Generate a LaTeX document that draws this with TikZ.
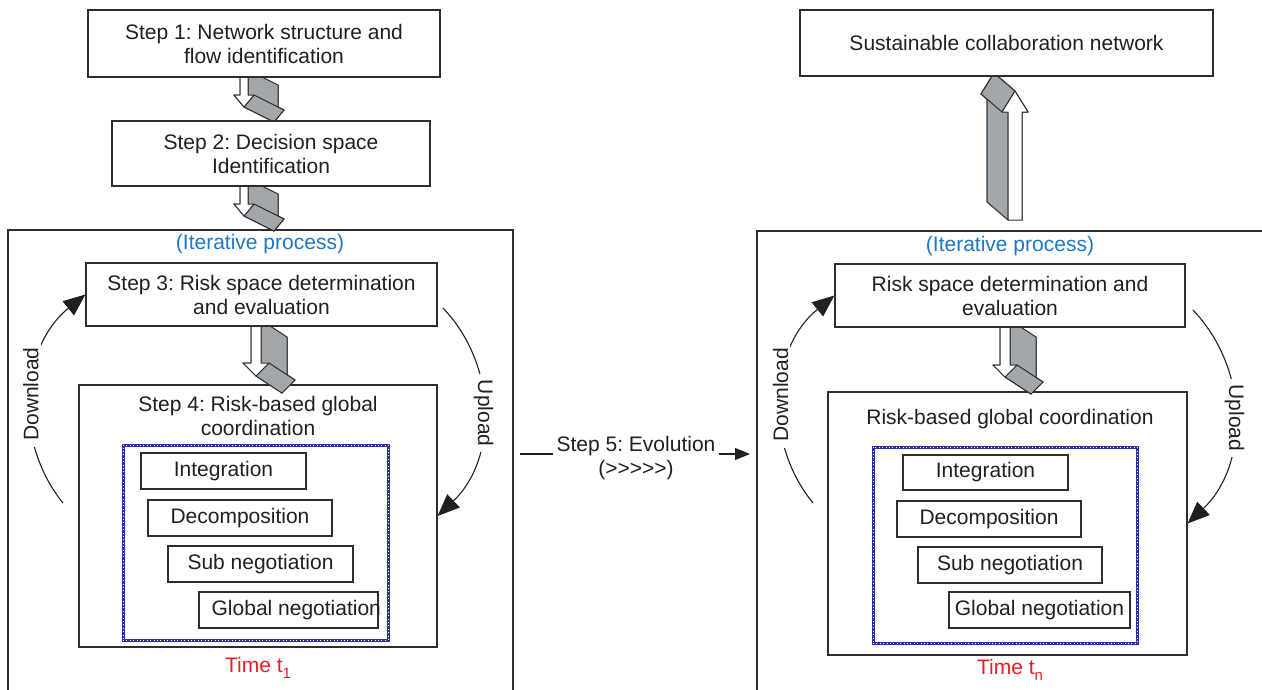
\documentclass[tikz,border=0pt]{standalone}
\usepackage{fontspec}
\setmainfont{Liberation Sans}[Ligatures=TeXOff]
\usetikzlibrary{arrows.meta}
\frenchspacing

\definecolor{lineColor}{RGB}{45,45,45}
\definecolor{textColor}{RGB}{35,31,32}
\definecolor{sideColor}{RGB}{162,167,172}
\definecolor{iterColor}{RGB}{30,120,200}
\definecolor{timeColor}{RGB}{237,28,36}
\definecolor{dotColor}{RGB}{45,50,160}

% 3d block arrow: x, y, rotation, length, head length, half shaft, half head, depth dx, depth dy
\newcommand{\blockarrow}[9]{%
\begin{scope}[shift={(#1,#2)},rotate=#3]
\coordinate (p1) at ({-#6},0);
\coordinate (p2) at ({#6},0);
\coordinate (p3) at ({#6},{#4-#5});
\coordinate (p4) at ({#7},{#4-#5});
\coordinate (p5) at (0,{#4});
\coordinate (p6) at ({-#7},{#4-#5});
\coordinate (p7) at ({-#6},{#4-#5});
\coordinate (q1) at ({-#6+#8},{#9});
\coordinate (q2) at ({#6+#8},{#9});
\coordinate (q3) at ({#6+#8},{#4-#5+#9});
\coordinate (q4) at ({#7+#8},{#4-#5+#9});
\coordinate (q5) at ({#8},{#4+#9});
\coordinate (q6) at ({-#7+#8},{#4-#5+#9});
\coordinate (q7) at ({-#6+#8},{#4-#5+#9});
\path[sideface] (q1) -- (q2) -- (q3) -- (q4) -- (q5) -- (q6) -- (q7) -- cycle;
\path[sideface] (p1) -- (p7) -- (q7) -- (q1) -- cycle;
\path[sideface] (p6) -- (p7) -- (q7) -- (q6) -- cycle;
\path[sideface] (p3) -- (p4) -- (q4) -- (q3) -- cycle;
\path[sideface] (p5) -- (p6) -- (q6) -- (q5) -- cycle;
\path[sideface] (p2) -- (p3) -- (q3) -- (q2) -- cycle;
\path[sideface] (p4) -- (p5) -- (q5) -- (q4) -- cycle;
\path[frontface] (p1) -- (p2) -- (p3) -- (p4) -- (p5) -- (p6) -- (p7) -- cycle;
\end{scope}}

\begin{document}
\begin{tikzpicture}[x=1pt,y=-1pt,
  font=\fontsize{21}{24}\selectfont,
  box/.style={draw=lineColor,line width=1.2pt,fill=white,text=textColor,align=center,inner sep=0pt},
  frame/.style={draw=lineColor,line width=1.2pt,inner sep=0pt},
  dotbox/.style={draw=dotColor,line width=3pt,inner sep=0pt,
    postaction={draw=white,line width=1pt,dash pattern=on 0.8pt off 2.6pt}},
  subbox/.style={draw=lineColor,line width=1.1pt,fill=white,text=textColor,inner sep=0pt},
  plain/.style={text=textColor,align=center,inner sep=3pt},
  iter/.style={text=iterColor,inner sep=0pt},
  timelabel/.style={text=timeColor,inner sep=0pt},
  bendarrow/.style={draw=textColor,line width=1.1pt,-{Triangle[length=22pt,width=18pt]}},
  arclabel/.style={fill=white,text=textColor,inner xsep=6pt,inner ysep=2pt},
  sideface/.style={fill=sideColor,draw=lineColor,line width=1pt,line join=round},
  frontface/.style={fill=white,draw=lineColor,line width=1pt,line join=round}]
\path[use as bounding box,fill=white] (0,0) rectangle (1262,689);
\clip (0,0) rectangle (1262,689);

\node[frame,minimum width=505pt,minimum height=490pt] (frameL) at (260.5,475) {};
\node[frame,minimum width=540pt,minimum height=490pt] (frameR) at (1027,476) {};

\node[box,minimum width=358pt,minimum height=262pt] (s4) at (258,516) {};
\node[box,minimum width=359pt,minimum height=263pt] (rs4) at (1007.5,523.5) {};

\blockarrow{244}{70}{0}{37}{12}{4}{10}{30}{15}
\blockarrow{244}{179}{0}{37}{12}{4}{10}{30}{15}
\blockarrow{256}{320}{0}{56}{13}{5}{13}{26}{17}
\blockarrow{1005}{320}{0}{57}{12}{5}{12}{26}{17}
\blockarrow{1015}{220}{180}{129}{21}{7}{13}{21}{18}

% left column
\node[box,minimum width=352pt,minimum height=67pt] (s1) at (264,43.5) {Step 1: Network structure and\\flow identification};
\node[box,minimum width=318pt,minimum height=65pt] (s2) at (271,153.5) {Step 2: Decision space\\Identification};
\node[iter] (itL) at (260,244) {(Iterative process)};
\node[box,minimum width=351pt,minimum height=63pt] (s3) at (261.5,294.5) {Step 3: Risk space determination\\and evaluation};
\node[plain] (s4t) at (258,416) {Step 4: Risk-based global\\coordination};
\node[dotbox,minimum width=265pt,minimum height=195pt] (coL) at (255.5,542.5) {};
\node[subbox,minimum width=165pt,minimum height=36pt] (int1) at (223.5,471) {Integration};
\node[subbox,minimum width=184pt,minimum height=36pt] (dec1) at (240,518) {Decomposition};
\node[subbox,minimum width=185pt,minimum height=36pt] (sub1) at (260.5,564) {Sub negotiation};
\node[subbox,minimum width=179pt,minimum height=36pt] (glo1) at (288.5,610) {};
\node[plain,anchor=west,inner sep=0pt] (glo1t) at ([xshift=13pt]glo1.west) {Global negotiation};
\node[timelabel] (tL) at (258,668) {Time t\raisebox{-6pt}{\fontsize{15}{15}\selectfont 1}};

\coordinate (dlL) at (63,503);
\coordinate (ulL) at (443,308);
\draw[bendarrow] (dlL) to[bend left=45] node[arclabel,rotate=90] (dlLt) {Download} (s3.west);
\draw[bendarrow] (ulL) to[bend left=45] node[arclabel,rotate=-90] (ulLt) {Upload} (s4.east);

% evolution
\coordinate (evS) at (520,454);
\coordinate (evE) at (750,454);
\node[plain] (ev) at (636,458) {Step 5: Evolution\\(>>>>>)};
\draw[draw=textColor,line width=1.1pt] (evS) -- (evS -| ev.west);
\draw[draw=textColor,line width=1.1pt,-{Triangle[length=15pt,width=12pt]}] (evS -| ev.east) -- (evE);

% right column
\node[box,minimum width=413pt,minimum height=66pt] (sus) at (1006.5,43) {Sustainable collaboration network};
\node[iter] (itR) at (1010,246) {(Iterative process)};
\node[box,minimum width=350pt,minimum height=63pt] (rs3) at (1010,295.5) {Risk space determination and\\evaluation};
\node[plain] (rs4t) at (1010,419) {Risk-based global coordination};
\node[dotbox,minimum width=264pt,minimum height=196pt] (coR) at (1005,545) {};
\node[subbox,minimum width=165pt,minimum height=35pt] (int2) at (985.5,472.5) {Integration};
\node[subbox,minimum width=184pt,minimum height=36pt] (dec2) at (989,519) {Decomposition};
\node[subbox,minimum width=184pt,minimum height=36pt] (sub2) at (1010,565) {Sub negotiation};
\node[subbox,minimum width=181pt,minimum height=36pt] (glo2) at (1039.5,610) {Global negotiation};
\node[timelabel] (tR) at (1010,670) {Time t\raisebox{-6pt}{\fontsize{15}{15}\selectfont n}};

\coordinate (dlR) at (813,503);
\coordinate (ulR) at (1193,310);
\draw[bendarrow] (dlR) to[bend left=45] node[arclabel,rotate=90] (dlRt) {Download} (rs3.west);
\draw[bendarrow] (ulR) to[bend left=45] node[arclabel,rotate=-90] (ulRt) {Upload} (rs4.east);
\end{tikzpicture}
\end{document}
